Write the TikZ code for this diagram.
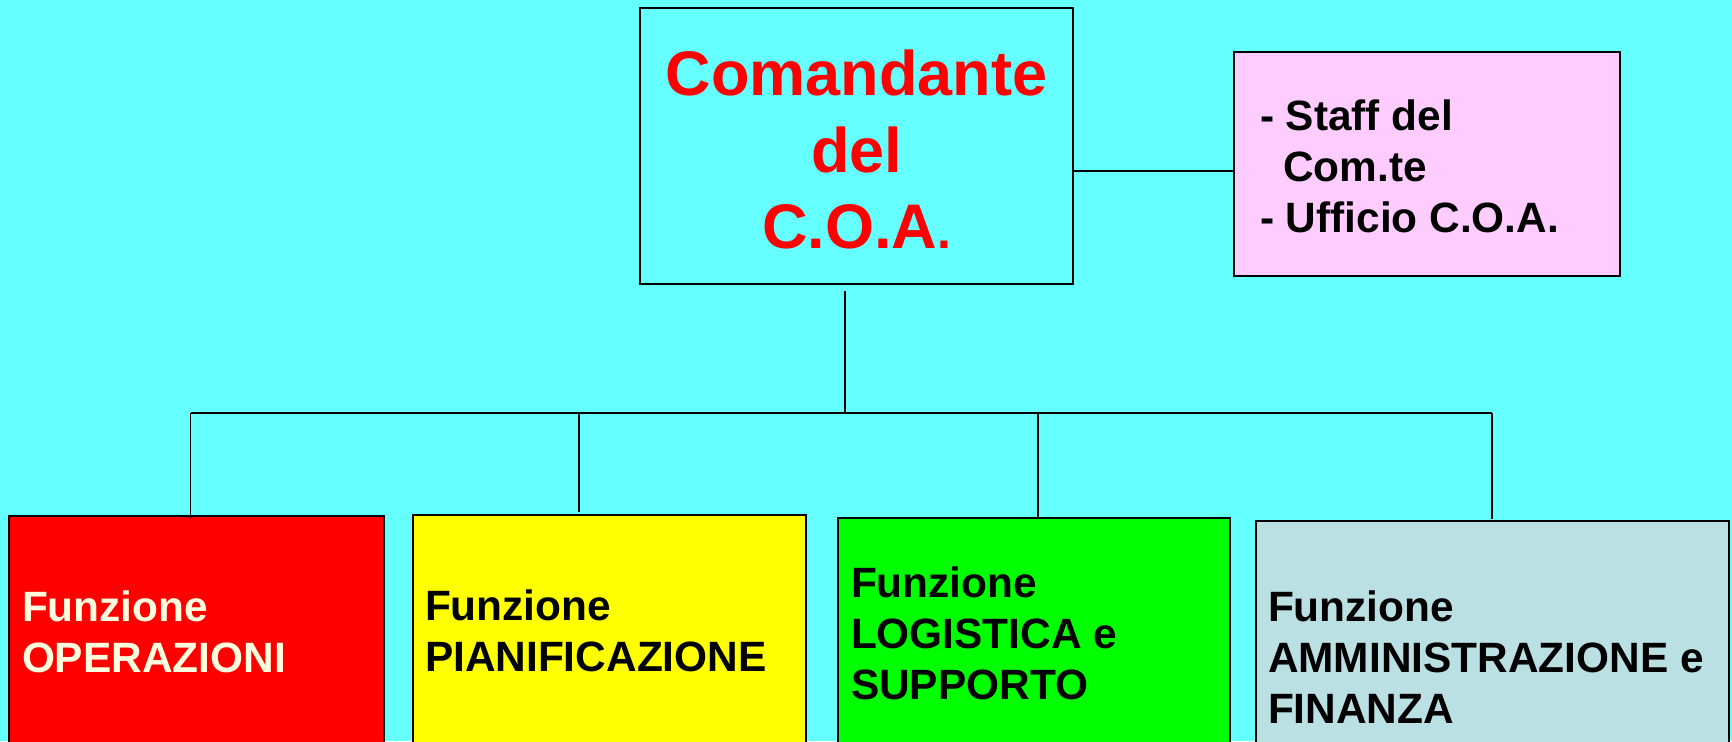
\documentclass[tikz,border=0pt]{standalone}
\usepackage{fontspec}
\setmainfont{Liberation Sans}
\definecolor{bgcyan}{HTML}{66FFFF}
\definecolor{staffpink}{HTML}{FFCCFF}
\definecolor{opred}{HTML}{FF0000}
\definecolor{planyellow}{HTML}{FFFF00}
\definecolor{loggreen}{HTML}{00FF00}
\definecolor{fingrey}{HTML}{BBE0E3}
\definecolor{cream}{HTML}{FFFFE0}
\begin{document}
\begin{tikzpicture}[x=0.5pt,y=-0.5pt,
  box/.style={draw=black,line width=1pt,inner sep=0pt,outer sep=0pt},
  link/.style={draw=black,line width=0.8pt},
  txt/.style={inner sep=0pt,outer sep=0pt,font=\bfseries}]
\useasboundingbox (0,0) rectangle (1732,741);
\clip (0,0) rectangle (1732,741);
\fill[bgcyan] (0,0) rectangle (1732,741);

% boxes
\node[box,fill=bgcyan,minimum width=216.5pt,minimum height=138pt,anchor=north west] (com) at (640,8) {};
\node[box,fill=staffpink,minimum width=193pt,minimum height=112pt,anchor=north west] (staff) at (1234,52) {};
\node[box,fill=opred,minimum width=187.5pt,minimum height=125pt,anchor=north west] (ops) at (9,516) {};
\node[box,fill=planyellow,minimum width=196.5pt,minimum height=125pt,anchor=north west] (plan) at (413,515) {};
\node[box,fill=loggreen,minimum width=195.75pt,minimum height=125pt,anchor=north west] (log) at (838,518) {};
\node[box,fill=fingrey,minimum width=236.5pt,minimum height=125pt,anchor=north west] (fin) at (1256,521) {};

% texts
\node[txt,text=opred,anchor=base] (comtext) at (856.5,95.7)
  {\fontsize{31.5}{38.15}\selectfont\begin{tabular}[t]{@{}c@{}}Comandante\\del\\C.O.A{\fontsize{25}{25}\selectfont .}\end{tabular}};
\node[txt,anchor=base west] (stafftext) at (1260,130)
  {\fontsize{21.2}{25.5}\selectfont\begin{tabular}[t]{@{}l@{}}- Staff del\\\hspace*{11.5pt}Com.te\\- Ufficio C.O.A.\end{tabular}};
\node[txt,text=cream,anchor=base west] (opstext) at (22,621.7)
  {\fontsize{21.2}{25.5}\selectfont\begin{tabular}[t]{@{}l@{}}Funzione\\OPERAZIONI\end{tabular}};
\node[txt,anchor=base west] (plantext) at (425,620.7)
  {\fontsize{21.2}{25.5}\selectfont\begin{tabular}[t]{@{}l@{}}Funzione\\PIANIFICAZIONE\end{tabular}};
\node[txt,anchor=base west] (logtext) at (851,597.3)
  {\fontsize{21.2}{25.5}\selectfont\begin{tabular}[t]{@{}l@{}}Funzione\\LOGISTICA e\\SUPPORTO\end{tabular}};
\node[txt,anchor=base west] (fintext) at (1268,621.7)
  {\fontsize{21.2}{25.5}\selectfont\begin{tabular}[t]{@{}l@{}}Funzione\\AMMINISTRAZIONE e\\FINANZA\end{tabular}};

% connectors
\coordinate (top) at (845,291);
\coordinate (hub) at (845,413);
\coordinate (b1) at (190.5,413);
\coordinate (b2) at (579,413);
\coordinate (b3) at (1038,413);
\coordinate (b4) at (1492,413);
\coordinate (e2) at (579,512);
\coordinate (e4) at (1492,519);
\coordinate (s1) at (1073,171);
\draw[link] (s1) -- (s1 -| staff.west);
\draw[link] (top) -- (hub);
\draw[link] (b1) -- (b4);
\draw[link] (b1) -- ([yshift=-1pt]b1 |- ops.north);
\draw[link] (b2) -- (e2);
\draw[link] (b3) -- (b3 |- log.north);
\draw[link] (b4) -- (e4);
\end{tikzpicture}
\end{document}
